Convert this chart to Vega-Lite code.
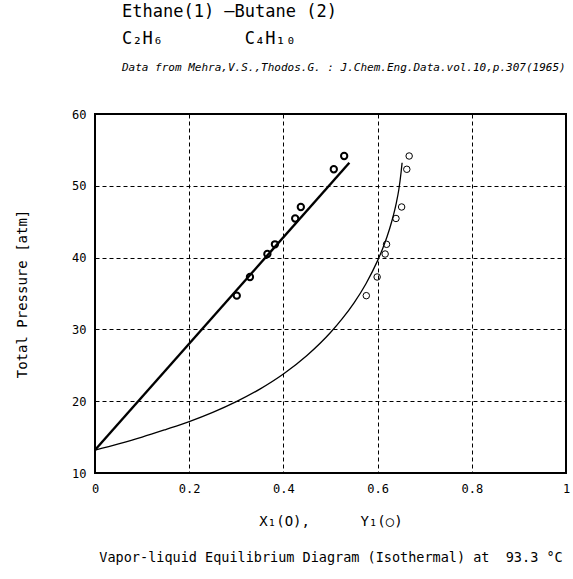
{
  "$schema": "https://vega.github.io/schema/vega-lite/v6.json",
  "width": 471,
  "height": 359,
  "autosize": {"type": "none"},
  "padding": {"left": 95, "top": 114, "right": 7, "bottom": 106},
  "background": "white",
  "title": {
    "text": ["Ethane(1) —Butane (2)", "C₂H₆\u00a0\u00a0\u00a0\u00a0\u00a0\u00a0\u00a0\u00a0C₄H₁₀"],
    "subtitle": "Data from Mehra,V.S.,Thodos.G. : J.Chem.Eng.Data.vol.10,p.307(1965)",
    "anchor": "start",
    "frame": "group",
    "dx": 27,
    "font": "DejaVu Sans Mono",
    "fontSize": 17,
    "fontWeight": "normal",
    "lineHeight": 27,
    "color": "black",
    "subtitleFont": "DejaVu Sans Mono",
    "subtitleFontSize": 11,
    "subtitleFontStyle": "italic",
    "subtitleColor": "black",
    "subtitlePadding": 14,
    "offset": 34
  },
  "datasets": {
    "vaporLine": [
      {"x": 0, "P": 13.2},
      {"x": 0.05, "P": 14.06},
      {"x": 0.1, "P": 15.0},
      {"x": 0.15, "P": 16.05},
      {"x": 0.2, "P": 17.15},
      {"x": 0.25, "P": 18.43},
      {"x": 0.3, "P": 19.93},
      {"x": 0.35, "P": 21.68},
      {"x": 0.4, "P": 23.78},
      {"x": 0.45, "P": 26.36},
      {"x": 0.5, "P": 29.56},
      {"x": 0.525, "P": 31.49},
      {"x": 0.55, "P": 33.7},
      {"x": 0.575, "P": 36.33},
      {"x": 0.6, "P": 39.58},
      {"x": 0.61, "P": 41.13},
      {"x": 0.62, "P": 42.9},
      {"x": 0.63, "P": 45.03},
      {"x": 0.64, "P": 47.7},
      {"x": 0.645, "P": 49.45},
      {"x": 0.65, "P": 51.95},
      {"x": 0.652, "P": 53.2}
    ],
    "liquidLine": [
      {"x": 0, "P": 13.2},
      {"x": 0.54, "P": 53.2}
    ],
    "liquidPts": [
      {"x": 0.301, "P": 34.7},
      {"x": 0.329, "P": 37.3},
      {"x": 0.366, "P": 40.5},
      {"x": 0.382, "P": 41.85},
      {"x": 0.425, "P": 45.45},
      {"x": 0.437, "P": 47.05},
      {"x": 0.507, "P": 52.3},
      {"x": 0.529, "P": 54.15}
    ],
    "vaporPts": [
      {"x": 0.576, "P": 34.7},
      {"x": 0.599, "P": 37.3},
      {"x": 0.616, "P": 40.5},
      {"x": 0.619, "P": 41.85},
      {"x": 0.639, "P": 45.45},
      {"x": 0.651, "P": 47.05},
      {"x": 0.662, "P": 52.3},
      {"x": 0.667, "P": 54.15}
    ]
  },
  "config": {
    "view": {"stroke": "black", "strokeWidth": 2},
    "axis": {
      "labelFont": "DejaVu Sans Mono",
      "labelFontSize": 12,
      "labelColor": "black",
      "titleFont": "DejaVu Sans Mono",
      "titleFontSize": 14,
      "titleFontWeight": "normal",
      "titleColor": "black",
      "domain": false,
      "ticks": false,
      "tickSize": 0,
      "gridColor": "black",
      "gridDash": [4, 3],
      "gridWidth": 1,
      "gridOpacity": 1,
      "labelFlush": false
    }
  },
  "resolve": {"axis": {"x": "independent"}},
  "layer": [
    {
      "data": {"name": "vaporLine"},
      "mark": {"type": "line", "interpolate": "monotone", "color": "black", "strokeWidth": 1.3},
      "encoding": {
        "x": {
          "field": "x", "type": "quantitative",
          "scale": {"domain": [0, 1]},
          "axis": {
            "values": [0, 0.2, 0.4, 0.6, 0.8, 1],
            "format": "~g",
            "grid": true,
            "labelPadding": 10,
            "title": "X₁(O),\u00a0\u00a0\u00a0\u00a0\u00a0\u00a0Y₁(○)",
            "titlePadding": 20
          }
        },
        "y": {
          "field": "P", "type": "quantitative",
          "scale": {"domain": [10, 60]},
          "axis": {
            "values": [10, 20, 30, 40, 50, 60],
            "grid": true,
            "labelPadding": 9,
            "title": "Total Pressure [atm]",
            "titlePadding": 42
          }
        }
      }
    },
    {
      "data": {"name": "liquidLine"},
      "mark": {"type": "line", "color": "black", "strokeWidth": 2.4},
      "encoding": {
        "x": {
          "field": "x", "type": "quantitative",
          "axis": {
            "orient": "bottom",
            "labels": false,
            "grid": false,
            "title": "Vapor-liquid Equilibrium Diagram (Isothermal) at\u00a0\u00a093.3 °C\u00a0\u00a0\u00a0",
            "titleFontSize": 13.5,
            "titlePadding": 77
          }
        },
        "y": {"field": "P", "type": "quantitative"}
      }
    },
    {
      "data": {"name": "liquidPts"},
      "mark": {"type": "point", "shape": "circle", "filled": false, "color": "black", "strokeWidth": 2, "size": 40, "opacity": 1},
      "encoding": {
        "x": {"field": "x", "type": "quantitative", "axis": null},
        "y": {"field": "P", "type": "quantitative"}
      }
    },
    {
      "data": {"name": "vaporPts"},
      "mark": {"type": "point", "shape": "circle", "filled": false, "color": "black", "strokeWidth": 1, "size": 42, "opacity": 1},
      "encoding": {
        "x": {"field": "x", "type": "quantitative", "axis": null},
        "y": {"field": "P", "type": "quantitative"}
      }
    }
  ]
}
